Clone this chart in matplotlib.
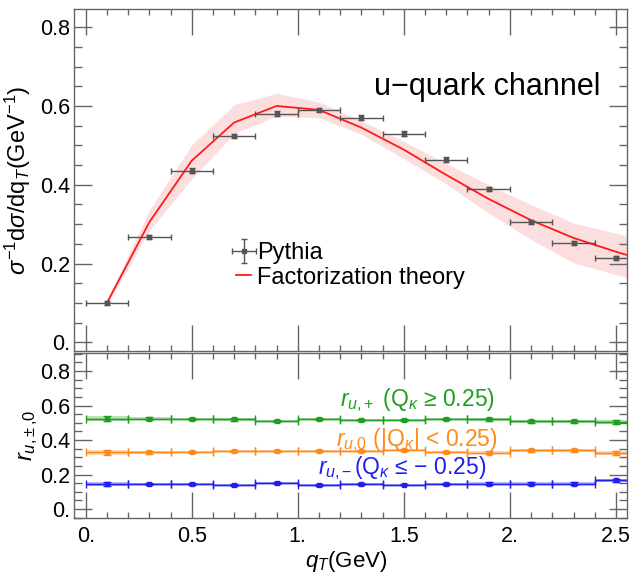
import numpy as np
import matplotlib
matplotlib.use('Agg')
import matplotlib.pyplot as plt
from matplotlib.ticker import MultipleLocator, FixedLocator, FixedFormatter

plt.rcParams['font.family'] = ['Liberation Sans', 'DejaVu Sans']
plt.rcParams['mathtext.fontset'] = 'custom'
plt.rcParams['mathtext.rm'] = 'Liberation Sans'
plt.rcParams['mathtext.it'] = 'Liberation Sans:italic'
plt.rcParams['mathtext.sf'] = 'Liberation Sans'

# ---- data ----
qt = [0.1, 0.3, 0.5, 0.7, 0.9, 1.1, 1.3, 1.5, 1.7, 1.9, 2.1, 2.3, 2.5]
pythia = [0.100, 0.268, 0.436, 0.524, 0.580, 0.590, 0.570, 0.530, 0.464, 0.390, 0.305, 0.251, 0.213]
pythia_err = [0.004, 0.005, 0.006, 0.006, 0.006, 0.006, 0.006, 0.006, 0.006, 0.005, 0.005, 0.005, 0.005]

qt_theory = [0.1, 0.3, 0.5, 0.7, 0.9, 1.1, 1.3, 1.5, 1.7, 1.9, 2.1, 2.3, 2.5, 2.7]
theory = [0.100, 0.305, 0.461, 0.558, 0.600, 0.590, 0.545, 0.489, 0.425, 0.364, 0.310, 0.265, 0.230, 0.198]
theory_hi = [0.105, 0.335, 0.501, 0.603, 0.632, 0.610, 0.562, 0.510, 0.454, 0.400, 0.349, 0.303, 0.277, 0.255]
theory_lo = [0.095, 0.283, 0.415, 0.530, 0.574, 0.570, 0.528, 0.466, 0.402, 0.328, 0.261, 0.202, 0.172, 0.150]

r_plus = [0.523, 0.523, 0.521, 0.520, 0.511, 0.522, 0.517, 0.517, 0.523, 0.520, 0.509, 0.508, 0.505]
r_plus_err = [0.015, 0.009, 0.007, 0.007, 0.006, 0.006, 0.006, 0.006, 0.007, 0.008, 0.010, 0.011, 0.012]
r_zero = [0.330, 0.330, 0.330, 0.335, 0.337, 0.335, 0.337, 0.340, 0.330, 0.327, 0.340, 0.340, 0.323]
r_zero_err = [0.015, 0.008, 0.006, 0.006, 0.005, 0.005, 0.006, 0.006, 0.007, 0.008, 0.009, 0.010, 0.011]
r_minus = [0.145, 0.145, 0.147, 0.140, 0.150, 0.140, 0.145, 0.142, 0.145, 0.148, 0.148, 0.148, 0.167]
r_minus_err = [0.010, 0.006, 0.005, 0.004, 0.004, 0.004, 0.005, 0.005, 0.005, 0.006, 0.007, 0.007, 0.009]

xticks = [0.0, 0.5, 1.0, 1.5, 2.0, 2.5]
xticklabels = ['0.', '0.5', '1.', '1.5', '2.', '2.5']
yticks = [0.0, 0.2, 0.4, 0.6, 0.8]
yticklabels = ['0.', '0.2', '0.4', '0.6', '0.8']

green = '#1f9e1f'
orange = '#ff8a1c'
blue = '#1f1ff0'
frame = '#666666'

fig = plt.figure(figsize=(6.42, 5.75), dpi=100)
ax1 = fig.add_axes([0.1153, 0.3895, 0.8613, 0.5948])
ax2 = fig.add_axes([0.1153, 0.0991, 0.8613, 0.2870])


def style(ax):
    for s in ax.spines.values():
        s.set_color(frame)
        s.set_linewidth(1.0)
    ax.set_xlim(-0.055, 2.552)
    ax.xaxis.set_major_locator(FixedLocator(xticks))
    ax.xaxis.set_minor_locator(MultipleLocator(0.1))
    ax.yaxis.set_major_locator(FixedLocator(yticks))
    ax.yaxis.set_major_formatter(FixedFormatter(yticklabels))
    ax.yaxis.set_minor_locator(MultipleLocator(0.05))
    ax.tick_params(which='both', direction='in', top=True, right=True, color=frame, width=1.0,
                   labelsize=15.5)
    ax.tick_params(axis='x', which='major', length=19)
    ax.tick_params(axis='x', which='minor', length=4.5)
    ax.tick_params(axis='y', which='major', length=13, pad=3)
    ax.tick_params(axis='y', which='minor', length=5.5)


# ---- upper panel ----
style(ax1)
ax1.set_ylim(-0.022, 0.846)
ax1.fill_between(qt_theory, theory_lo, theory_hi, color='#fcdede', lw=0)
ax1.plot(qt_theory, theory, color='#ff1a1a', lw=1.3, label='Factorization theory')
ax1.errorbar(qt, pythia, xerr=0.1, yerr=pythia_err, fmt='s', ms=3.5, color='#555555',
             ecolor='#555555', elinewidth=1.0, capsize=2.5, label='Pythia')
ax1.tick_params(axis='x', labelbottom=False)
h, l = ax1.get_legend_handles_labels()
ax1.legend(h[::-1], l[::-1], loc='center left', bbox_to_anchor=(0.293, 0.25), frameon=False,
           fontsize=17, handlelength=0.65, handletextpad=0.25, labelspacing=0.1,
           borderpad=0, borderaxespad=0)
ax1.text(0.951, 0.773, 'u\u2212quark channel', transform=ax1.transAxes, ha='right', va='center',
         fontsize=22)
ax1.set_ylabel(r'$\sigma^{-1}\mathrm{d}\sigma/\mathrm{dq}_T\mathrm{(GeV^{-1})}$', fontsize=17)
ax1.yaxis.set_label_coords(-0.074, 0.5)

# ---- lower panel ----
style(ax2)
ax2.set_ylim(-0.052, 0.905)
ax2.xaxis.set_major_formatter(FixedFormatter(xticklabels))
for vals, errs, c in [(r_plus, r_plus_err, green), (r_zero, r_zero_err, orange),
                      (r_minus, r_minus_err, blue)]:
    v = np.array(vals)
    e = np.array(errs)
    edges = np.append(np.array(qt) - 0.1, qt[-1] + 0.1)
    ax2.stairs(v + e, edges, baseline=v - e, fill=True, color=c, alpha=0.3, lw=0)
    ax2.stairs(v, edges, color=c, lw=1.0, baseline=None)
    ax2.errorbar(qt, vals, xerr=0.1, yerr=errs, fmt='s', ms=2.5, color=c, ecolor=c,
                 elinewidth=1.0, capsize=3)

ax2.text(1.565, 0.63, r'$r_{u{,}+}$ (Q$_\kappa$ ≥ 0.25)', color=green, fontsize=16.5,
         ha='center', va='center')
ax2.text(1.56, 0.40, r'$r_{u{,}0}$ (|Q$_\kappa$| < 0.25)', color=orange, fontsize=16.5,
         ha='center', va='center')
ax2.text(1.49, 0.235, r'$r_{u{,}-}$(Q$_\kappa$ ≤ − 0.25)', color=blue, fontsize=16.5,
         ha='center', va='center')
ax2.set_ylabel(r'$r_{u{,}\pm{,}0}$', fontsize=17)
ax2.yaxis.set_label_coords(-0.062, 0.5)
ax2.set_xlabel(r'$q_T$(GeV)', fontsize=16)
ax2.xaxis.set_label_coords(0.492, -0.185)
ax2.tick_params(axis='x', pad=5.5)

fig.savefig('out.png', dpi=100)
